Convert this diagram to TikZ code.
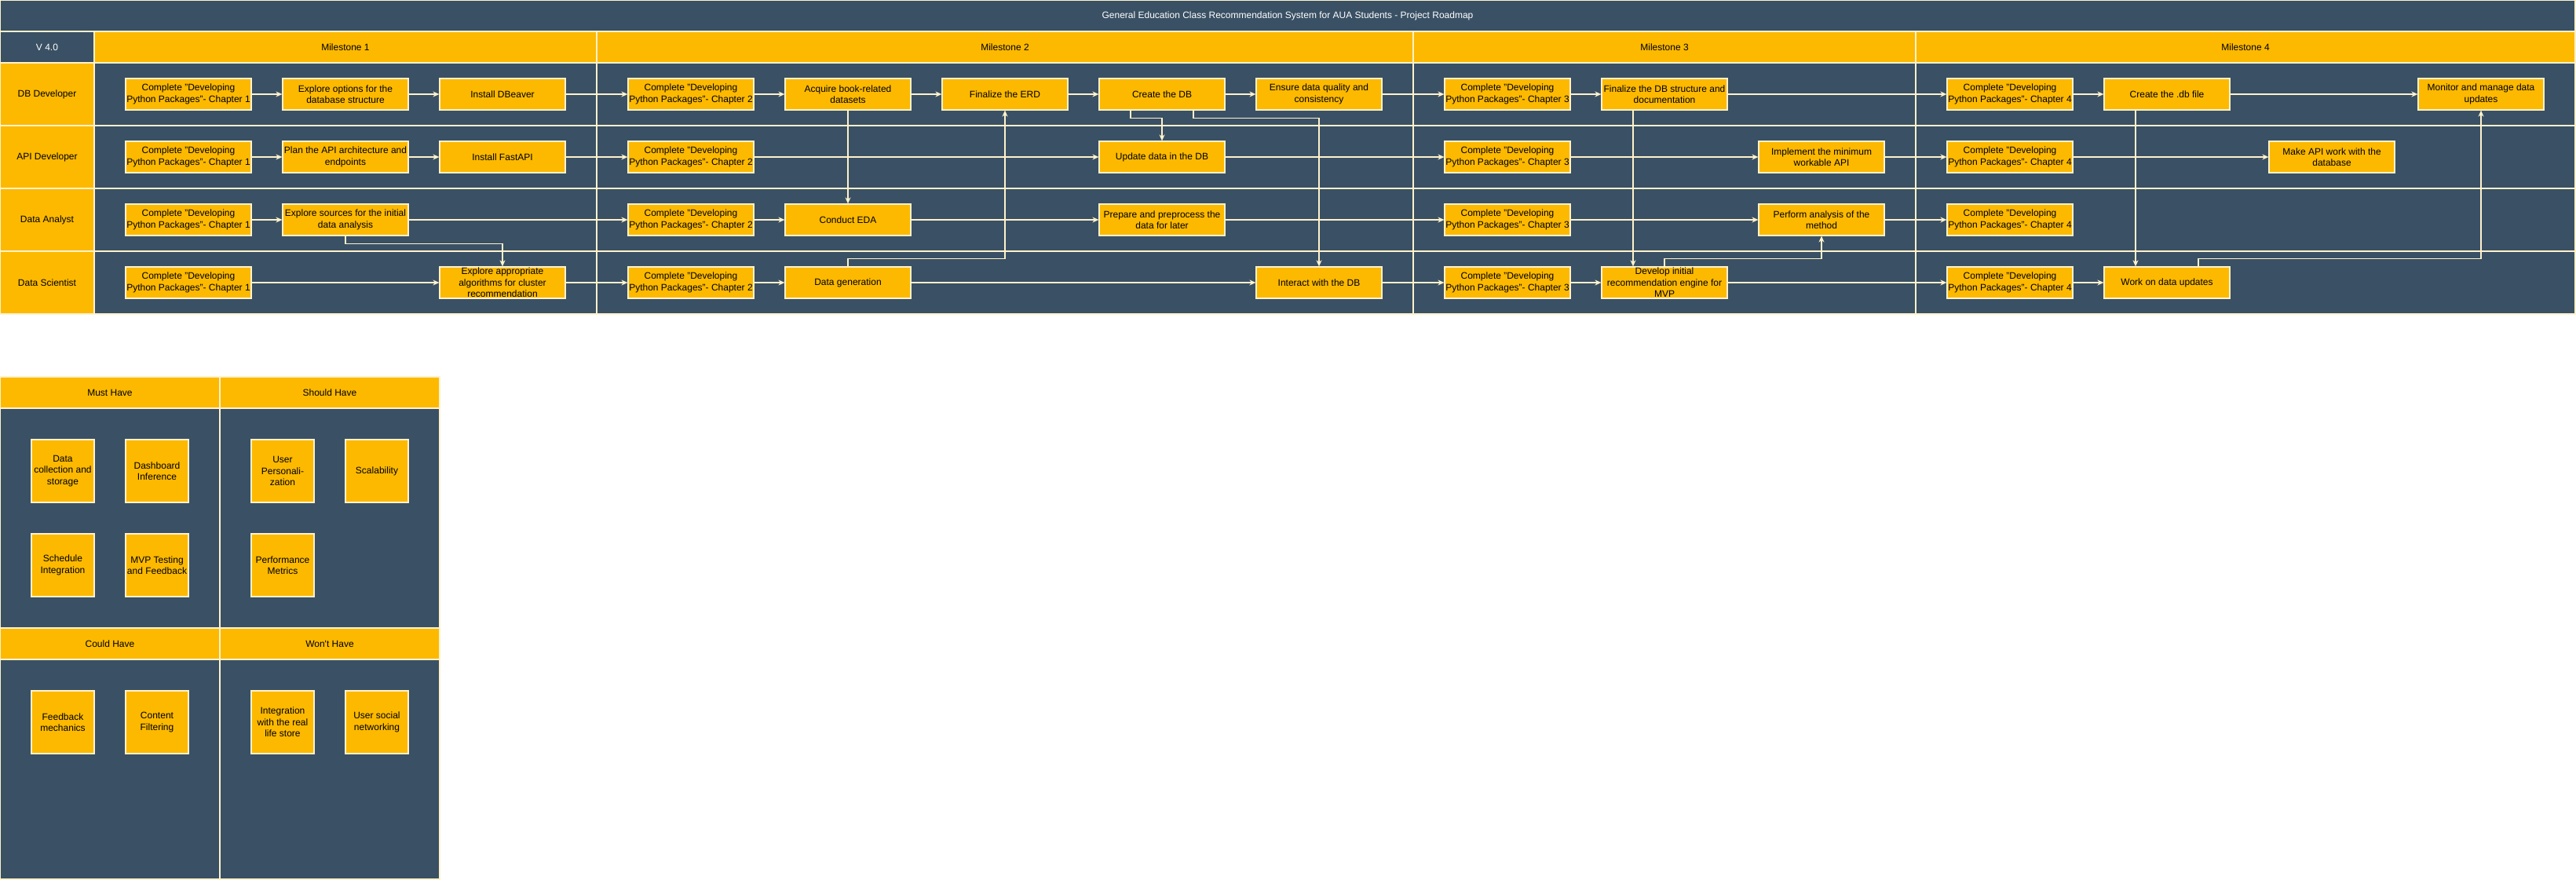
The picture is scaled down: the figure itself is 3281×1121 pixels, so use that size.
\documentclass[tikz,border=0pt]{standalone}
\usepackage{fontspec}
\setmainfont{Liberation Sans}
\usetikzlibrary{arrows.meta}
\definecolor{slate}{HTML}{3A5064}
\definecolor{amber}{HTML}{FCB900}
\definecolor{cream}{HTML}{FFF2CC}

\begin{document}
\begin{tikzpicture}[x=1pt,y=-1pt,
  grid/.style={draw=cream,line width=1.2pt},
  lbl/.style={font=\fontsize{12}{14.4}\selectfont,align=center},
  cell/.style={draw=cream,line width=1.2pt,fill=amber,inner sep=0pt,lbl,text=black},
  task/.style={cell,minimum width=160pt,minimum height=40pt},
  sticky/.style={cell,minimum width=80pt,minimum height=80pt},
  flow/.style={draw=cream,line width=1.2pt,-{Stealth[length=8pt,width=7pt,inset=2.5pt]}},
]
\useasboundingbox (0,0) rectangle (3281,1121);
\fill[white] (0,0) rectangle (3281,1121);

% ---------- roadmap frame ----------
\node[cell,fill=slate,text=white,minimum width=3280pt,minimum height=40pt] (title) at (1640,20)
  {General Education Class Recommendation System for AUA Students - Project Roadmap};
\node[cell,fill=slate,text=white,minimum width=120pt,minimum height=40pt] (ver) at (60,60) {V 4.0};
\node[cell,minimum width=640pt,minimum height=40pt]  (ms1) at (440,60)  {Milestone 1};
\node[cell,minimum width=1040pt,minimum height=40pt] (ms2) at (1280,60) {Milestone 2};
\node[cell,minimum width=640pt,minimum height=40pt]  (ms3) at (2120,60) {Milestone 3};
\node[cell,minimum width=840pt,minimum height=40pt]  (ms4) at (2860,60) {Milestone 4};

\foreach \top in {80,160,240,320}
  \draw[grid,fill=slate] (120,\top) rectangle (3280,\top+80);
\foreach \xm in {760,1800,2440}
  \draw[grid] (\xm,80) -- (\xm,400);

\node[cell,minimum width=120pt,minimum height=80pt] (laneDB) at (60,120) {DB Developer};
\node[cell,minimum width=120pt,minimum height=80pt] (laneAPI) at (60,200) {API Developer};
\node[cell,minimum width=120pt,minimum height=80pt] (laneDA) at (60,280) {Data Analyst};
\node[cell,minimum width=120pt,minimum height=80pt] (laneDS) at (60,360) {Data Scientist};

% ---------- DB developer ----------
\node[task] (d1)  at (240,120)  {Complete "Developing\\Python Packages"- Chapter 1};
\node[task] (d2)  at (440,120)  {Explore options for the\\database structure};
\node[task] (d3)  at (640,120)  {Install DBeaver};
\node[task] (d4)  at (880,120)  {Complete "Developing\\Python Packages"- Chapter 2};
\node[task] (d5)  at (1080,120) {Acquire book-related\\datasets};
\node[task] (d6)  at (1280,120) {Finalize the ERD};
\node[task] (d7)  at (1480,120) {Create the DB};
\node[task] (d8)  at (1680,120) {Ensure data quality and\\consistency};
\node[task] (d9)  at (1920,120) {Complete "Developing\\Python Packages"- Chapter 3};
\node[task] (d10) at (2120,120) {Finalize the DB structure and\\documentation};
\node[task] (d11) at (2560,120) {Complete "Developing\\Python Packages"- Chapter 4};
\node[task] (d12) at (2760,120) {Create the .db file};
\node[task] (d13) at (3160,120) {Monitor and manage data\\updates};

% ---------- API developer ----------
\node[task] (a1) at (240,200)  {Complete "Developing\\Python Packages"- Chapter 1};
\node[task] (a2) at (440,200)  {Plan the API architecture and\\endpoints};
\node[task] (a3) at (640,200)  {Install FastAPI};
\node[task] (a4) at (880,200)  {Complete "Developing\\Python Packages"- Chapter 2};
\node[task] (a5) at (1480,200) {Update data in the DB};
\node[task] (a6) at (1920,200) {Complete "Developing\\Python Packages"- Chapter 3};
\node[task] (a7) at (2320,200) {Implement the minimum\\workable API};
\node[task] (a8) at (2560,200) {Complete "Developing\\Python Packages"- Chapter 4};
\node[task] (a9) at (2970,200) {Make API work with the\\database};

% ---------- data analyst ----------
\node[task] (n1) at (240,280)  {Complete "Developing\\Python Packages"- Chapter 1};
\node[task] (n2) at (440,280)  {Explore sources for the initial\\data analysis};
\node[task] (n3) at (880,280)  {Complete "Developing\\Python Packages"- Chapter 2};
\node[task] (n4) at (1080,280) {Conduct EDA};
\node[task] (n5) at (1480,280) {Prepare and preprocess the\\data for later};
\node[task] (n6) at (1920,280) {Complete "Developing\\Python Packages"- Chapter 3};
\node[task] (n7) at (2320,280) {Perform analysis of the\\method};
\node[task] (n8) at (2560,280) {Complete "Developing\\Python Packages"- Chapter 4};

% ---------- data scientist ----------
\node[task] (s1) at (240,360)  {Complete "Developing\\Python Packages"- Chapter 1};
\node[task] (s2) at (640,360)  {Explore appropriate\\algorithms for cluster\\recommendation};
\node[task] (s3) at (880,360)  {Complete "Developing\\Python Packages"- Chapter 2};
\node[task] (s4) at (1080,360) {Data generation};
\node[task] (s5) at (1680,360) {Interact with the DB};
\node[task] (s6) at (1920,360) {Complete "Developing\\Python Packages"- Chapter 3};
\node[task] (s7) at (2120,360) {Develop initial\\recommendation engine for\\MVP};
\node[task] (s8) at (2560,360) {Complete "Developing\\Python Packages"- Chapter 4};
\node[task] (s9) at (2760,360) {Work on data updates};

% ---------- flows along each lane ----------
\foreach \a/\b in {d1/d2,d2/d3,d3/d4,d4/d5,d5/d6,d6/d7,d7/d8,d8/d9,d9/d10,d10/d11,d11/d12,d12/d13,
                   a1/a2,a2/a3,a3/a4,a4/a5,a5/a6,a6/a7,a7/a8,a8/a9,
                   n1/n2,n2/n3,n3/n4,n4/n5,n5/n6,n6/n7,n7/n8,
                   s1/s2,s2/s3,s3/s4,s4/s5,s5/s6,s6/s7,s7/s8,s8/s9}
  \draw[flow] (\a) -- (\b);

% ---------- flows between lanes ----------
\draw[flow] (n2.south) -- ++(0,10) -| (s2.north);
\draw[flow] (d5.south) -- (n4.north);
\draw[flow] (s4.north) -- ++(0,-10) -| (d6.south);
\draw[flow] ([xshift=-40pt]d7.south) -- ++(0,10) -| (a5.north);
\draw[flow] ([xshift=40pt]d7.south) -- ++(0,10) -| (s5.north);
\draw[flow] ([xshift=-40pt]d10.south) -- ([xshift=-40pt]s7.north);
\draw[flow] (s7.north) -- ++(0,-10) -| (n7.south);
\draw[flow] ([xshift=-40pt]d12.south) -- ([xshift=-40pt]s9.north);
\draw[flow] ([xshift=40pt]s9.north) -- ++(0,-10) -| (d13.south);

% ---------- priority board ----------
\node[cell,minimum width=280pt,minimum height=40pt] (must)   at (140,500) {Must Have};
\node[cell,minimum width=280pt,minimum height=40pt] (should) at (420,500) {Should Have};
\node[cell,minimum width=280pt,minimum height=40pt] (could)  at (140,820) {Could Have};
\node[cell,minimum width=280pt,minimum height=40pt] (wont)   at (420,820) {Won\textquotesingle t Have};
\draw[grid,fill=slate] (0,520) rectangle (280,800);
\draw[grid,fill=slate] (280,520) rectangle (560,800);
\draw[grid,fill=slate] (0,840) rectangle (280,1120);
\draw[grid,fill=slate] (280,840) rectangle (560,1120);

\node[sticky] (m1) at (80,600)  {Data\\collection and\\storage};
\node[sticky] (m2) at (200,600) {Dashboard\\Inference};
\node[sticky] (m3) at (80,720)  {Schedule\\Integration};
\node[sticky] (m4) at (200,720) {MVP Testing\\and Feedback};
\node[sticky] (h1) at (360,600) {User\\Personali-\\zation};
\node[sticky] (h2) at (480,600) {Scalability};
\node[sticky] (h3) at (360,720) {Performance\\Metrics};
\node[sticky] (c1) at (80,920)  {Feedback\\mechanics};
\node[sticky] (c2) at (200,920) {Content\\Filtering};
\node[sticky] (w1) at (360,920) {Integration\\with the real\\life store};
\node[sticky] (w2) at (480,920) {User social\\networking};
\end{tikzpicture}
\end{document}
